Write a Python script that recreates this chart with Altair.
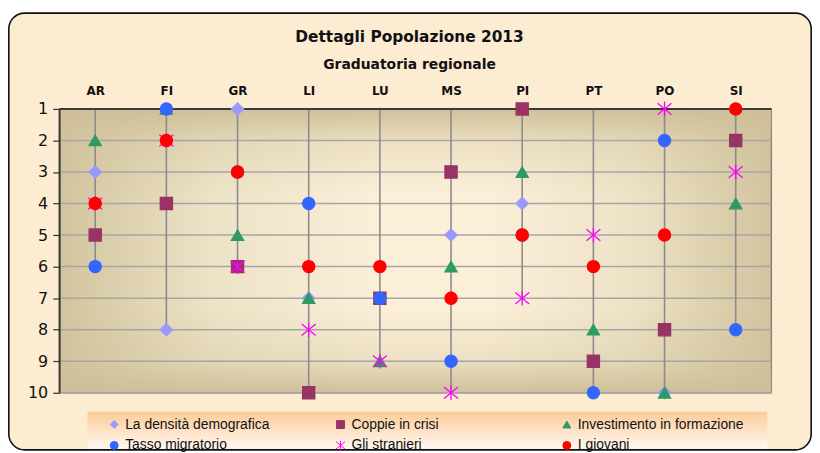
import altair as alt
import pandas as pd

# ---------------- data ----------------
provinces = ["AR", "FI", "GR", "LI", "LU", "MS", "PI", "PT", "PO", "SI"]
series = ["La densità demografica", "Coppie in crisi", "Investimento in formazione",
          "Tasso migratorio", "Gli stranieri", "I giovani"]
densita = [3, 8, 1, 7, 6, 5, 4, 9, 10, 2]
coppie = [5, 4, 6, 10, 7, 3, 1, 9, 8, 2]
investimento = [2, 1, 5, 7, 9, 6, 3, 8, 10, 4]
tasso = [6, 1, 3, 4, 7, 9, 5, 10, 2, 8]
stranieri = [4, 2, 6, 8, 9, 10, 7, 5, 1, 3]
giovani = [4, 2, 3, 6, 6, 7, 5, 6, 5, 1]
rank_ticks = [1, 2, 3, 4, 5, 6, 7, 8, 9, 10]

colors = ["#9999FF", "#993366", "#2E9A62", "#3366FF", "#FF00FF", "#FF0000"]
ASTERISK = "M0,-1.2L0,1.2M-1.15,-0.95L1.15,0.95M-1.15,0.95L1.15,-0.95"
shapes = ["diamond", "square", "triangle-up", "circle", ASTERISK, "circle"]

values = [densita, coppie, investimento, tasso, stranieri, giovani]
rows = []
for s, vals in zip(series, values):
    for p, v in zip(provinces, vals):
        rows.append({"series": s, "prov": p, "rank": v})
df = pd.DataFrame(rows)
grid_df = pd.DataFrame({"r": rank_ticks})
deco = pd.DataFrame({"d": [0]})

# legend fills its 3 columns top-to-bottom, so order the domain column by column
legend_order = [0, 3, 1, 4, 2, 5]
dom = [series[i] for i in legend_order]
col_range = [colors[i] for i in legend_order]
shape_range = [shapes[i] for i in legend_order]

W, H = 717, 286

xscale = alt.Scale(type="point", domain=provinces, padding=0.5)
xaxis = alt.Axis(orient="top", labelAngle=0, domain=False, ticks=False, tickSize=0,
                 labelFont="DejaVu Sans", labelFontWeight="bold", labelFontSize=12,
                 labelColor="#111111", labelPadding=12, title=None, zindex=1)
yscale = alt.Scale(domain=[1, 10], reverse=True, nice=False, zero=False)
yaxis = alt.Axis(values=rank_ticks, orient="left", grid=False, domain=False,
                 tickSize=7, tickColor="#333333", tickWidth=1.2,
                 labelFont="DejaVu Sans", labelFontSize=16, labelColor="#111111",
                 labelPadding=5, format="d", title=None, zindex=1)

# ---------------- decoration ----------------
outer = alt.Chart(deco).mark_rect(
    cornerRadius=16, fill="#FCECD2", stroke="#111111", strokeWidth=1.6
).encode(x=alt.value(-51.2), x2=alt.value(757.2), y=alt.value(-96.5), y2=alt.value(343.5))

tan = "#D2C49E"
bg_h = alt.Chart(deco).mark_rect(
    fill={"gradient": "linear", "x1": 0, "y1": 0, "x2": 1, "y2": 0,
          "stops": [{"offset": 0, "color": tan},
                    {"offset": 0.22, "color": "#EDE3C7"},
                    {"offset": 0.45, "color": "#FBEFD8"},
                    {"offset": 0.6, "color": "#FBEFD8"},
                    {"offset": 0.8, "color": "#EDE3C7"},
                    {"offset": 1, "color": tan}]},
    stroke="#7F7F7F", strokeWidth=1.5
).encode(x=alt.value(0), x2=alt.value(W), y=alt.value(0), y2=alt.value(H))

bg_v = alt.Chart(deco).mark_rect(
    fill={"gradient": "linear", "x1": 0, "y1": 0, "x2": 0, "y2": 1,
          "stops": [{"offset": 0, "color": "rgba(205,190,150,0.95)"},
                    {"offset": 0.12, "color": "rgba(205,190,150,0.3)"},
                    {"offset": 0.3, "color": "rgba(205,190,150,0)"},
                    {"offset": 0.7, "color": "rgba(205,190,150,0)"},
                    {"offset": 0.88, "color": "rgba(205,190,150,0.3)"},
                    {"offset": 1, "color": "rgba(205,190,150,0.95)"}]}
).encode(x=alt.value(0), x2=alt.value(W), y=alt.value(0), y2=alt.value(H))

legend_box = alt.Chart(deco).mark_rect(
    fill={"gradient": "linear", "x1": 0, "y1": 0, "x2": 0, "y2": 1,
          "stops": [{"offset": 0, "color": "#FCCB98"},
                    {"offset": 1, "color": "#FFF8F0"}]}
).encode(x=alt.value(28), x2=alt.value(713), y=alt.value(305), y2=alt.value(342.5))

gridlines = alt.Chart(grid_df).mark_rule(color="#A6A6A6", strokeWidth=1.5).encode(
    y=alt.Y("r:Q", scale=yscale, axis=yaxis),
    x=alt.value(0), x2=alt.value(W)
)

vrules = alt.Chart(df).mark_rule(color="#8C8C8C", strokeWidth=1.6).encode(
    x=alt.X("prov:N", scale=xscale, axis=xaxis),
    y=alt.Y("max(rank):Q", scale=yscale, axis=yaxis),
    y2=alt.datum(1)
)

top_border = alt.Chart(deco).mark_rule(color="#3A3A3A", strokeWidth=2).encode(
    x=alt.value(0), x2=alt.value(W), y=alt.value(0))
left_border = alt.Chart(deco).mark_rule(color="#3A3A3A", strokeWidth=2).encode(
    x=alt.value(0), y=alt.value(0), y2=alt.value(H))

leg = alt.Legend(orient="none", legendX=48, legendY=311, columns=3, gridAlign="all",
                 columnPadding=42, rowPadding=7, labelFont="Liberation Sans",
                 labelFontSize=14, labelColor="#111111", labelLimit=400, symbolSize=64,
                 symbolStrokeWidth=1, labelOffset=4, padding=0, title=None)

points = alt.Chart(df).mark_point(filled=True, opacity=1, size=150, strokeWidth=1.3).encode(
    x=alt.X("prov:N", scale=xscale, axis=xaxis),
    y=alt.Y("rank:Q", scale=yscale, axis=yaxis),
    fill=alt.Fill("series:N", scale=alt.Scale(domain=dom, range=col_range), legend=leg),
    stroke=alt.Stroke("series:N", scale=alt.Scale(domain=dom, range=col_range), legend=leg),
    shape=alt.Shape("series:N", scale=alt.Scale(domain=dom, range=shape_range), legend=leg),
)

chart = alt.layer(
    outer, bg_h, bg_v, legend_box, gridlines, vrules, top_border, left_border, points
).properties(
    width=W, height=H,
    autosize=alt.AutoSizeParams(type="none"),
    padding={"left": 52, "top": 100, "right": 41, "bottom": 59},
    title=alt.TitleParams(
        text="Dettagli Popolazione 2013", subtitle="Graduatoria regionale",
        font="Comic Sans MS, DejaVu Sans", fontSize=15.5, fontWeight="bold", color="#111111",
        subtitleFont="Comic Sans MS, DejaVu Sans", subtitleFontSize=14,
        subtitleFontWeight="bold", subtitleColor="#111111", subtitlePadding=13,
        anchor="middle", offset=-60, dx=-6
    )
).configure_view(strokeWidth=0).configure(background="white")

chart.save("out.html", embed_options={"renderer": "svg", "actions": False})
